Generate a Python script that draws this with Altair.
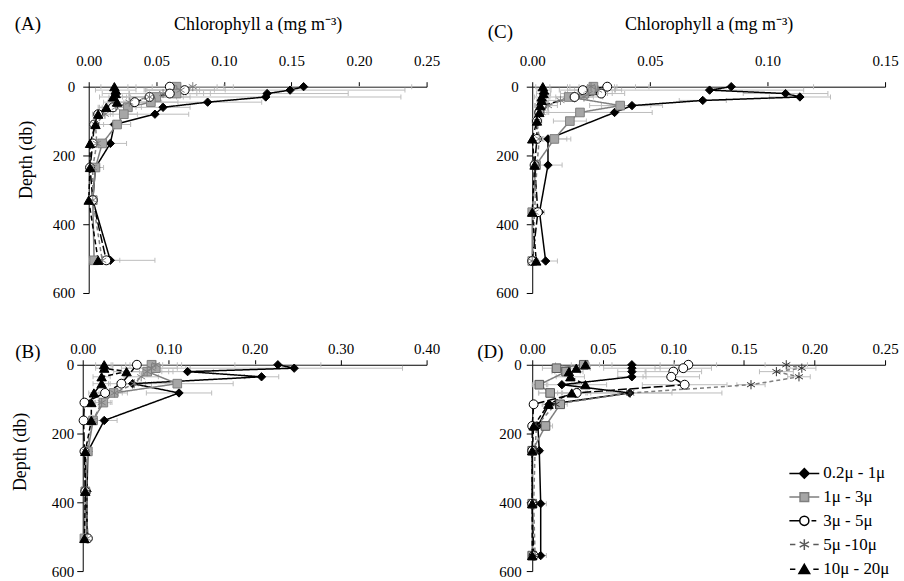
import altair as alt
import pandas as pd

SERIES = ["0.2μ - 1μ", "1μ - 3μ", "3μ - 5μ", "5μ -10μ", "10μ - 20μ"]

# ---------------- Panel A ----------------
A_DEPTH = [0, 10, 20, 30, 45, 60, 80, 110, 165, 235, 330, 505]
A_VAL = {
    "0.2μ - 1μ": [0.159, 0.149, 0.132, 0.131, 0.088, 0.055, 0.049, 0.019, 0.016, 0.005, 0.003, 0.016],
    "1μ - 3μ":   [0.065, 0.062, 0.065, 0.050, 0.046, 0.029, 0.026, 0.021, 0.010, 0.005, 0.003, 0.004],
    "3μ - 5μ":   [0.060, 0.071, 0.060, 0.045, 0.034, 0.018, 0.007, 0.004, 0.003, 0.001, 0.003, 0.013],
    "5μ -10μ":   [0.077, 0.068, 0.055, 0.045, 0.030, 0.020, 0.012, 0.005, 0.006, 0.003, 0.003, 0.010],
    "10μ - 20μ": [0.019, 0.020, 0.020, 0.018, 0.021, 0.013, 0.007, 0.005, 0.001, 0.001, 0.000, 0.007],
}
A_SD = {
    "0.2μ - 1μ": [0.080, 0.085, 0.060, 0.100, 0.040, 0.020, 0.025, 0.012, 0.012, 0.006, 0.003, 0.033],
    "1μ - 3μ":   [0.030, 0.020, 0.020, 0.020, 0.020, 0.010, 0.010, 0.010, 0.005, 0.003, 0.002, 0.003],
    "3μ - 5μ":   [0.040, 0.030, 0.030, 0.030, 0.020, 0.010, 0.004, 0.003, 0.002, 0.001, 0.002, 0.010],
    "5μ -10μ":   [0.030, 0.025, 0.025, 0.020, 0.015, 0.010, 0.006, 0.003, 0.003, 0.002, 0.002, 0.006],
    "10μ - 20μ": [0.010, 0.015, 0.010, 0.010, 0.010, 0.006, 0.004, 0.003, 0.001, 0.001, 0.001, 0.004],
}

# ---------------- Panel C ----------------
C_DEPTH = [0, 10, 20, 30, 40, 55, 75, 100, 152, 228, 365, 507]
C_VAL = {
    "0.2μ - 1μ": [0.0846, 0.0754, 0.1077, 0.1138, 0.0725, 0.0424, 0.0350, None, 0.0067, 0.0067, 0.0031, 0.0057],
    "1μ - 3μ":   [0.0260, 0.0250, 0.0220, 0.0155, None, 0.0374, 0.0203, 0.0160, 0.0094, 0.0016, 0.0000, 0.0000],
    "3μ - 5μ":   [0.0319, 0.0215, 0.0293, 0.0180, None, 0.0040, 0.0030, 0.0020, 0.0020, 0.0010, 0.0024, 0.0000],
    "5μ -10μ":   [0.0250, 0.0280, 0.0240, 0.0220, 0.0120, 0.0067, 0.0040, 0.0020, 0.0030, 0.0020, 0.0010, 0.0000],
    "10μ - 20μ": [0.0045, 0.0050, 0.0048, 0.0040, 0.0040, 0.0034, 0.0030, 0.0020, 0.0000, 0.0010, 0.0000, 0.0017],
}
C_SD = {
    "0.2μ - 1μ": [0.035, 0.040, 0.018, 0.013, 0.010, 0.013, 0.016, None, 0.008, 0.006, 0.002, 0.005],
    "1μ - 3μ":   [0.010, 0.010, 0.010, 0.008, None, 0.013, 0.014, 0.007, 0.007, 0.001, 0.001, 0.001],
    "3μ - 5μ":   [0.012, 0.010, 0.010, 0.008, None, 0.003, 0.002, 0.002, 0.002, 0.001, 0.002, 0.001],
    "5μ -10μ":   [0.010, 0.010, 0.010, 0.008, 0.006, 0.004, 0.003, 0.002, 0.002, 0.001, 0.001, 0.001],
    "10μ - 20μ": [0.003, 0.003, 0.003, 0.003, 0.002, 0.002, 0.002, 0.001, 0.001, 0.001, 0.001, 0.001],
}

# ---------------- Panel B ----------------
B_DEPTH = [0, 10, 20, 35, 55, 82, 110, 162, 252, 368, 505]
B_VAL = {
    "0.2μ - 1μ": [0.227, 0.246, 0.122, 0.208, 0.058, 0.112, None, 0.025, 0.006, 0.005, 0.005],
    "1μ - 3μ":   [0.080, 0.085, 0.075, None, 0.110, 0.036, 0.024, 0.012, 0.006, 0.003, 0.002],
    "3μ - 5μ":   [0.063, None, None, None, 0.045, 0.026, 0.002, 0.001, 0.002, 0.003, 0.006],
    "5μ -10μ":   [0.085, 0.080, 0.075, 0.068, 0.060, 0.037, 0.022, 0.012, 0.004, 0.005, 0.005],
    "10μ - 20μ": [0.025, 0.025, 0.051, 0.022, 0.022, 0.013, 0.010, 0.010, 0.003, 0.003, 0.002],
}
B_SD = {
    "0.2μ - 1μ": [0.050, 0.126, 0.030, 0.020, 0.015, 0.038, None, 0.015, 0.003, 0.002, 0.003],
    "1μ - 3μ":   [0.030, 0.040, 0.030, None, 0.065, 0.010, 0.010, 0.005, 0.003, 0.002, 0.001],
    "3μ - 5μ":   [0.030, None, None, None, 0.015, 0.010, 0.002, 0.001, 0.001, 0.002, 0.004],
    "5μ -10μ":   [0.030, 0.030, 0.025, 0.020, 0.020, 0.015, 0.010, 0.005, 0.002, 0.002, 0.002],
    "10μ - 20μ": [0.010, 0.010, 0.015, 0.010, 0.010, 0.006, 0.005, 0.005, 0.002, 0.002, 0.001],
}

# ---------------- Panel D ----------------
D_DEPTH = [0, 10, 20, 35, 58, 82, 115, 178, 250, 404, 555]
D_VAL = {
    "0.2μ - 1μ": [0.0706, 0.0706, 0.0706, 0.0706, 0.0210, 0.0690, 0.0120, 0.0040, 0.0050, 0.0060, 0.0060],
    "1μ - 3μ":   [0.0365, 0.0172, 0.0240, None, 0.0050, 0.0127, 0.0198, 0.0094, 0.0000, 0.0000, 0.0000],
    "3μ - 5μ":   [0.1106, 0.1070, 0.1000, 0.0985, 0.1080, 0.0315, 0.0010, 0.0000, 0.0000, 0.0000, 0.0010],
    "5μ -10μ":   [0.1800, 0.1910, 0.1730, 0.1890, 0.1550, 0.0694, 0.0165, 0.0030, 0.0020, 0.0010, 0.0020],
    "10μ - 20μ": [0.0377, 0.0312, 0.0260, 0.0270, 0.0377, 0.0280, 0.0115, 0.0010, 0.0000, 0.0000, 0.0000],
}
D_SD = {
    "0.2μ - 1μ": [0.030, 0.020, 0.010, 0.010, 0.010, 0.030, 0.005, 0.003, 0.002, 0.004, 0.004],
    "1μ - 3μ":   [0.020, 0.010, 0.010, None, 0.005, 0.008, 0.005, 0.005, 0.001, 0.001, 0.001],
    "3μ - 5μ":   [0.020, 0.020, 0.020, 0.020, 0.030, 0.010, 0.001, 0.001, 0.001, 0.001, 0.001],
    "5μ -10μ":   [0.015, 0.010, 0.012, 0.008, 0.010, 0.065, 0.006, 0.002, 0.001, 0.001, 0.001],
    "10μ - 20μ": [0.010, 0.010, 0.010, 0.010, 0.015, 0.010, 0.004, 0.001, 0.001, 0.001, 0.001],
}

TICKS_A = [0.0, 0.05, 0.10, 0.15, 0.20, 0.25]
TICKS_C = [0.0, 0.05, 0.10, 0.15]
TICKS_B = [0.0, 0.10, 0.20, 0.30, 0.40]
TICKS_D = [0.0, 0.05, 0.10, 0.15, 0.20, 0.25]
DEPTH_TICKS = [0, 100, 200, 300, 400, 500, 600]

XTITLE = "Chlorophyll a (mg m⁻³)"
FONT = "Liberation Serif"

LINE_COLORS = ["#000000", "#7f7f7f", "#000000", "#7f7f7f", "#000000"]
LINE_DASH = [[1, 0], [1, 0], [9, 3], [4, 3], [5, 3]]
STAR = "M0,-1V1M-0.87,-0.5L0.87,0.5M-0.87,0.5L0.87,-0.5"
SHAPES = ["diamond", "square", "circle", STAR, "triangle-up"]
FILLS = ["#000000", "#a6a6a6", "#ffffff", "transparent", "#000000"]
STROKES = ["#000000", "#595959", "#000000", "#333333", "#000000"]
SIZES = [70, 90, 90, 80, 75]

LEG_SHAPES = [
    "M-1.25,0H-0.4M0.4,0H1.25M0,-0.4L0.4,0L0,0.4L-0.4,0Z",
    "M-1.25,0H-0.36M0.36,0H1.25M-0.36,-0.36H0.36V0.36H-0.36Z",
    "M-1.25,0H-0.38M0.6,0H1.0M0.38,0A0.38,0.38 0 1,1 -0.38,0A0.38,0.38 0 1,1 0.38,0Z",
    "M-1.2,0H-0.75M0.75,0H1.2M0,-0.45V0.45M-0.39,-0.22L0.39,0.22M-0.39,0.22L0.39,-0.22",
    "M-1.2,0H-0.75M0.75,0H1.2M0,-0.42L0.45,0.36H-0.45Z",
]
LEG_STROKES = ["#000000", "#7f7f7f", "#000000", "#595959", "#000000"]


def build(depths, vals, sds):
    rows = []
    for s in SERIES:
        for i, d in enumerate(depths):
            v = vals[s][i]
            if v is None:
                continue
            sd = sds[s][i]
            rows.append({
                "series": s, "depth": d, "value": v, "idx": i,
                "lo": max(0.0, v - sd) if sd is not None else None,
                "hi": v + sd if sd is not None else None,
            })
    return pd.DataFrame(rows)


def panel(depths, vals, sds, xmax, ticks, width, tag, tag_x, tag_y,
          xoff=0, title=False, ytitle=False, ytitle_y=100, label_pad=3,
          ylabel_pad=8, ytitle_pad=17, legend=False):
    df = build(depths, vals, sds)
    err = df.dropna(subset=["hi"])
    xs = alt.Scale(domain=[0, xmax], range=[xoff, width], nice=False, zero=True)
    xaxis_kw = dict(orient="top", values=ticks, format=".2f", grid=False,
                    tickSize=5, labelPadding=label_pad, labelFlush=False,
                    labelOverlap=False)
    if title:
        xaxis_kw["titlePadding"] = 20
        xaxis_kw["titleFontSize"] = 18
    x = alt.X("value:Q", scale=xs, axis=alt.Axis(**xaxis_kw),
              title=XTITLE if title else None)
    yaxis_kw = dict(values=DEPTH_TICKS, grid=False, tickSize=6,
                    labelPadding=ylabel_pad, labelFlush=False, offset=-xoff,
                    titlePadding=ytitle_pad, titleFontSize=18)
    if ytitle:
        yaxis_kw["titleY"] = ytitle_y
    ys = alt.Scale(domain=[0, 600], reverse=True, nice=False)
    y = alt.Y("depth:Q", scale=ys, axis=alt.Axis(**yaxis_kw),
              title="Depth (db)" if ytitle else None)

    sc = lambda rng: alt.Scale(domain=SERIES, range=rng)

    bars = alt.Chart(err).mark_rule(color="#bdbdbd", strokeWidth=1).encode(
        x=alt.X("lo:Q", scale=xs), x2="hi:Q", y=alt.Y("depth:Q", scale=ys))
    cap_lo = alt.Chart(err).mark_tick(orient="vertical", size=5, thickness=1,
                                      color="#bdbdbd", opacity=1).encode(
        x=alt.X("lo:Q", scale=xs), y=alt.Y("depth:Q", scale=ys))
    cap_hi = alt.Chart(err).mark_tick(orient="vertical", size=5, thickness=1,
                                      color="#bdbdbd", opacity=1).encode(
        x=alt.X("hi:Q", scale=xs), y=alt.Y("depth:Q", scale=ys))
    lines = alt.Chart(df).mark_line(strokeWidth=1.5).encode(
        x=x, y=y,
        stroke=alt.Stroke("series:N", scale=sc(LINE_COLORS), legend=None),
        strokeDash=alt.StrokeDash("series:N", scale=sc(LINE_DASH), legend=None),
        order="idx:Q")
    pts = alt.Chart(df).mark_point(filled=True, opacity=1, strokeWidth=1).encode(
        x=x, y=y,
        shape=alt.Shape("series:N", scale=sc(SHAPES), legend=None),
        fill=alt.Fill("series:N", scale=sc(FILLS), legend=None),
        stroke=alt.Stroke("series:N", scale=sc(STROKES), legend=None),
        size=alt.Size("series:N", scale=sc(SIZES), legend=None))
    label = alt.Chart(pd.DataFrame({"t": [tag]})).mark_text(
        font=FONT, fontSize=19, align="center", baseline="middle", color="black"
    ).encode(text="t:N", x=alt.value(tag_x), y=alt.value(tag_y))

    layers = [bars, cap_lo, cap_hi, lines, pts, label]
    if legend:
        leg_df = pd.DataFrame({"series": SERIES, "depth": [None] * 5})
        lg = alt.Legend(title=None, orient="none", legendX=260, legendY=96,
                        symbolSize=576, symbolStrokeWidth=1.5, rowPadding=2.8,
                        padding=0, labelOffset=6, labelFont=FONT, labelFontSize=17,
                        labelColor="black", symbolOpacity=1)
        leg = alt.Chart(leg_df).mark_point(filled=True, opacity=1).encode(
            y=alt.Y("depth:Q", scale=ys),
            shape=alt.Shape("series:N", scale=sc(LEG_SHAPES), legend=lg, sort=SERIES),
            fill=alt.Fill("series:N", scale=sc(FILLS), legend=lg, sort=SERIES),
            stroke=alt.Stroke("series:N", scale=sc(LEG_STROKES), legend=lg, sort=SERIES))
        layers.append(leg)
    ch = alt.layer(*layers).properties(width=width, height=207)
    if legend:
        ch = ch.resolve_scale(shape="independent", fill="independent",
                              stroke="independent")
    return ch


pA = panel(A_DEPTH, A_VAL, A_SD, 0.25, TICKS_A, 345, "(A)", -55, -63,
           xoff=6, title=True, ytitle=True, ytitle_y=73, label_pad=13)
pC = panel(C_DEPTH, C_VAL, C_SD, 0.15, TICKS_C, 354, "(C)", -32, -55,
           title=True, label_pad=13)
pB = panel(B_DEPTH, B_VAL, B_SD, 0.40, TICKS_B, 345, "(B)", -55, -13,
           ytitle=True, ytitle_y=87, label_pad=3, ylabel_pad=3, ytitle_pad=22)
pD = panel(D_DEPTH, D_VAL, D_SD, 0.25, TICKS_D, 354, "(D)", -42, -13,
           label_pad=3, ylabel_pad=5, legend=True)

chart = alt.concat(
    pA, pC, pB, pD, columns=2, bounds="flush",
    spacing={"row": 72, "column": 106}
).properties(
    padding={"left": 11, "top": 14, "right": 5, "bottom": 5}
).configure(background="white").configure_view(stroke=None).configure_axis(
    domainColor="black", tickColor="black", labelColor="black",
    titleColor="black", labelFont=FONT, titleFont=FONT, labelFontSize=15,
    titleFontSize=18, titleFontWeight="normal", domainWidth=1, tickWidth=1
)

chart.save("out.html", embed_options={"renderer": "svg", "actions": False})
